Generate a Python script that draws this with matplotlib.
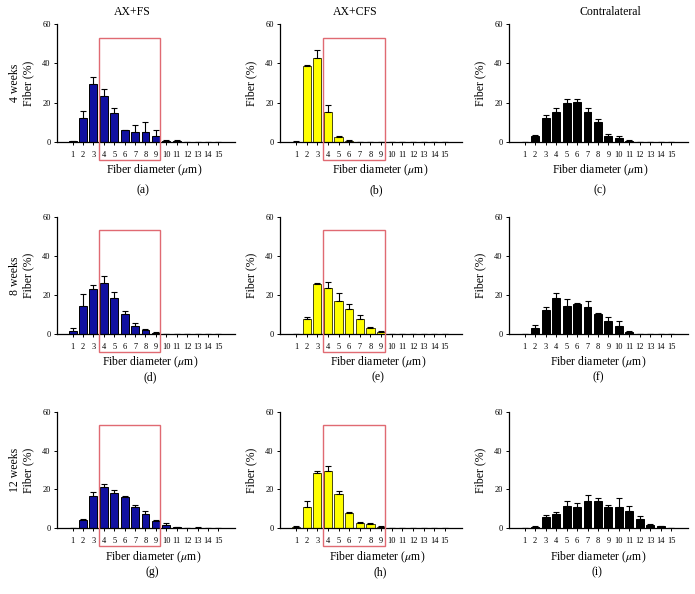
import numpy as np
import matplotlib
matplotlib.use("Agg")
import matplotlib.pyplot as plt
from matplotlib.patches import Rectangle

plt.rcParams['font.family'] = ['Liberation Serif', 'DejaVu Serif']
plt.rcParams['mathtext.fontset'] = 'stix'

diameters = list(range(1, 16))

# mean fiber percentage and upper error per diameter bin
fs_4w = [0.3, 12.4, 29.4, 23.3, 14.5, 6.0, 4.9, 5.1, 3.1, 0.6, 0.5, 0, 0, 0, 0]
fs_4w_err = [0.2, 3.6, 3.9, 3.4, 2.8, 0.3, 3.6, 4.9, 2.9, 0.6, 0.5, 0, 0, 0, 0]
cfs_4w = [0.2, 38.6, 42.5, 15.3, 2.4, 0.6, 0, 0, 0, 0, 0, 0, 0, 0, 0]
cfs_4w_err = [0.2, 0.5, 4.1, 3.7, 0.8, 0.3, 0, 0, 0, 0, 0, 0, 0, 0, 0]
con_4w = [0, 2.9, 12.1, 15.3, 19.8, 20.3, 15.3, 10.0, 3.3, 2.1, 0.4, 0, 0, 0, 0]
con_4w_err = [0, 0.5, 1.5, 1.8, 2.3, 1.8, 1.8, 1.9, 1.0, 0.8, 0.4, 0, 0, 0, 0]

fs_8w = [1.7, 14.5, 23.1, 26.2, 18.4, 10.2, 4.3, 2.0, 0.7, 0.2, 0, 0, 0, 0, 0]
fs_8w_err = [1.7, 6.1, 2.1, 3.6, 3.4, 1.5, 1.5, 0.7, 0.3, 0.1, 0, 0, 0, 0, 0]
cfs_8w = [0, 7.9, 25.5, 23.8, 17.2, 13.0, 7.6, 3.0, 1.3, 0.2, 0.1, 0.3, 0, 0.2, 0]
cfs_8w_err = [0, 1.0, 0.6, 2.7, 4.0, 2.5, 2.5, 0.7, 0.6, 0.1, 0.1, 0.1, 0, 0.1, 0]
con_8w = [0.2, 3.4, 12.2, 18.6, 14.6, 15.4, 13.9, 10.2, 6.8, 4.2, 1.0, 0, 0, 0, 0]
con_8w_err = [0.1, 1.3, 1.5, 2.6, 3.2, 0.5, 2.9, 0.6, 1.8, 2.4, 0.9, 0, 0, 0, 0]

fs_12w = [0.2, 4.3, 16.8, 21.1, 18.2, 15.9, 10.8, 7.2, 3.6, 1.9, 0.5, 0.2, 0.4, 0, 0]
fs_12w_err = [0.1, 0.5, 1.7, 1.5, 1.4, 0.7, 1.2, 1.5, 0.9, 0.7, 0.2, 0.1, 0.3, 0, 0]
cfs_12w = [0.7, 10.8, 28.5, 29.7, 17.7, 7.7, 2.6, 2.1, 0.9, 0.2, 0, 0, 0, 0, 0]
cfs_12w_err = [0.5, 3.4, 1.2, 2.2, 1.3, 0.5, 0.7, 0.8, 0.3, 0.1, 0, 0, 0, 0, 0]
con_12w = [0, 0.7, 5.8, 7.4, 11.7, 11.0, 13.9, 14.1, 11.0, 11.0, 8.9, 5.0, 1.5, 1.0, 0]
con_12w_err = [0, 0.3, 1.1, 1.0, 2.2, 2.0, 3.1, 1.3, 0.8, 4.4, 2.4, 1.3, 0.6, 0.4, 0]

rows = [
    [(fs_4w, fs_4w_err), (cfs_4w, cfs_4w_err), (con_4w, con_4w_err)],
    [(fs_8w, fs_8w_err), (cfs_8w, cfs_8w_err), (con_8w, con_8w_err)],
    [(fs_12w, fs_12w_err), (cfs_12w, cfs_12w_err), (con_12w, con_12w_err)],
]
row_names = ["4 weeks", "8 weeks", "12 weeks"]
col_titles = ["AX+FS", "AX+CFS", "Contralateral"]
bar_colors = ["#1010a0", "#ffff00", "#000000"]
edge_colors = ["#000000", "#4a4a10", "#000000"]
letters = ["(a)", "(b)", "(c)", "(d)", "(e)", "(f)", "(g)", "(h)", "(i)"]

W, H = 695, 594
fig = plt.figure(figsize=(W / 100, H / 100), dpi=100)

col_left = [57, 280, 509]
col_right = [235, 462, 688]
row_top = [24, 216.7, 411.7]
row_bot = [142, 334.3, 528.3]

title_x = [132, 355, 610]
xlab_x = [[154, 380, 600], [150, 378, 598], [153, 377, 598]]
xlab_y = [170, 362, 557]
letter_x = [[143, 376, 600], [150, 378, 598], [152, 380, 597]]
letter_y = [190, 377, 572]


def fx(px):
    return px / W


def fy(py):
    return 1 - py / H


for r in range(3):
    for c in range(3):
        vals, errs = rows[r][c]
        ax = fig.add_axes([fx(col_left[c]), fy(row_bot[r]),
                           fx(col_right[c] - col_left[c]),
                           (row_bot[r] - row_top[r]) / H])
        ax.bar(diameters, vals, width=0.76, color=bar_colors[c],
               edgecolor=edge_colors[c], linewidth=0.7, zorder=2)
        lower = np.zeros(len(errs))
        ax.errorbar(diameters, vals, yerr=[lower, errs], fmt='none',
                    ecolor='black', elinewidth=0.8, capsize=2, capthick=0.8,
                    zorder=3)
        ax.set_xlim(-0.5, 16.6)
        ax.set_ylim(0, 60)
        ax.set_yticks([0, 20, 40, 60])
        ax.set_xticks(diameters)
        ax.tick_params(axis='both', labelsize=6, length=2.5, width=0.7,
                       pad=2)
        ax.tick_params(axis='x', pad=4)
        for s in ['top', 'right']:
            ax.spines[s].set_visible(False)
        ax.spines['left'].set_linewidth(0.9)
        ax.spines['bottom'].set_linewidth(0.9)
        if c == 0:
            ax.set_ylabel(row_names[r] + "\nFiber (%)", fontsize=8.5,
                          labelpad=6, linespacing=1.1)
        else:
            ax.set_ylabel("Fiber (%)", fontsize=8.5, labelpad=6)
        if c < 2:
            ax.add_patch(Rectangle((3.5, -9), 5.9, 62, fill=False,
                                   edgecolor='#e06a72', linewidth=1.0,
                                   clip_on=False, zorder=4))
        fig.text(fx(xlab_x[r][c]), fy(xlab_y[r]),
                 r'Fiber diameter ($\mu$m)', fontsize=8.5,
                 ha='center', va='center')
        fig.text(fx(letter_x[r][c]), fy(letter_y[r]), letters[r * 3 + c],
                 fontsize=8.5, ha='center', va='center')

for c in range(3):
    fig.text(fx(title_x[c]), fy(12), col_titles[c], fontsize=8.5,
             ha='center', va='center')

fig.savefig("out.png", dpi=100)
